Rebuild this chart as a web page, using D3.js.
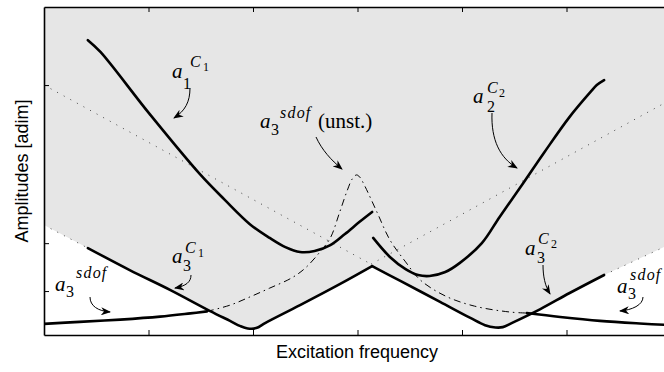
<!DOCTYPE html>
<html>
<head>
<meta charset="utf-8">
<script src="https://cdn.jsdelivr.net/npm/d3@7"></script>
<style>
  body { margin: 0; background: #fff; }
  svg { display: block; }
</style>
</head>
<body>
<div id="chart"></div>
<script>
const width = 664;
const height = 372;
// plot box runs a little past the right edge of the picture
const box = { left: 44, right: 671, top: 7, bottom: 335 };
const serif = "'Liberation Serif', 'Times New Roman', 'DejaVu Serif', serif";
const sans = "'Liberation Sans', Arial, Helvetica, sans-serif";

// x: excitation frequency, y: amplitude (no tick labels on the original)
const xDomain = [0, 6];
const yDomain = [0, 10];
const xTicks = [1, 2, 3, 4, 5];
const yTicks = [1.34, 2.8, 7.62];

// thick branches
const a1C1 = [[0.42, 8.99], [0.54, 8.63], [1.01, 6.74], [1.49, 4.91], [1.73, 4.12], [1.97, 3.38],
  [2.16, 2.96], [2.31, 2.68], [2.45, 2.53], [2.59, 2.56], [2.74, 2.74], [2.88, 3.08], [3.02, 3.45], [3.14, 3.75]];
const a2C2 = [[3.15, 2.96], [3.31, 2.38], [3.46, 2.01], [3.58, 1.83], [3.69, 1.8], [3.84, 1.92], [3.98, 2.2],
  [4.19, 2.8], [4.36, 3.6], [4.56, 4.51], [4.79, 5.58], [5.03, 6.65], [5.23, 7.41], [5.29, 7.62], [5.36, 7.77]];
const a3C1 = [[0.42, 2.65], [0.82, 1.98], [1.21, 1.37], [1.59, 0.73], [1.78, 0.43], [1.88, 0.27], [1.95, 0.2],
  [2.03, 0.21], [2.12, 0.37], [2.45, 0.91], [2.83, 1.55], [3.14, 2.1]];
const a3C2 = [[3.14, 2.1], [3.41, 1.65], [3.79, 1.01], [4.08, 0.52], [4.22, 0.3], [4.32, 0.23], [4.39, 0.24],
  [4.48, 0.37], [4.75, 0.79], [5.03, 1.28], [5.36, 1.83]];
// single dof response: stable left, unstable middle, stable right
const sdofLeft = [[0, 0.34], [0.34, 0.4], [0.73, 0.47], [1.11, 0.56], [1.4, 0.66], [1.56, 0.72]];
const sdofUnst = [[1.56, 0.72], [1.78, 0.91], [1.97, 1.16], [2.16, 1.43], [2.37, 1.74], [2.5, 2.04], [2.64, 2.53],
  [2.74, 2.96], [2.83, 3.75], [2.9, 4.39], [2.95, 4.76], [2.99, 4.88], [3.02, 4.82], [3.07, 4.54], [3.19, 3.72],
  [3.31, 2.9], [3.46, 2.23], [3.6, 1.68], [3.84, 1.19], [4.12, 0.88], [4.46, 0.7], [4.62, 0.67]];
const sdofRight = [[4.62, 0.67], [4.94, 0.55], [5.32, 0.43], [5.7, 0.35], [6, 0.3]];
// dotted backbones and the dotted edges of the shaded zone
const backLeft = [[0, 7.62], [3.13, 2.16]];
const backRight = [[3.13, 2.16], [6, 7.18]];
const edgeLeft = [[0, 3.35], [0.42, 2.65]];
const edgeRight = [[5.36, 1.83], [6, 2.78]];

const svg = d3.select('#chart').append('svg')
  .attr('width', width)
  .attr('height', height);

const x = d3.scaleLinear().domain(xDomain).range([box.left, box.right]);
const y = d3.scaleLinear().domain(yDomain).range([box.bottom, box.top]);

const defs = svg.append('defs');
defs.append('clipPath').attr('id', 'plot')
  .append('rect')
  .attr('x', box.left).attr('y', box.top)
  .attr('width', box.right - box.left).attr('height', box.bottom - box.top);
defs.append('marker')
  .attr('id', 'head')
  .attr('markerUnits', 'userSpaceOnUse')
  .attr('viewBox', '0 0 10 8')
  .attr('markerWidth', 10).attr('markerHeight', 8)
  .attr('refX', 9).attr('refY', 4)
  .attr('orient', 'auto')
  .append('path')
  .attr('d', 'M0,0 L10,4 L0,8 L3,4 Z')
  .attr('fill', '#000');

const smooth = d3.line().x((d) => x(d[0])).y((d) => y(d[1])).curve(d3.curveCatmullRom.alpha(0.5));
const straight = d3.line().x((d) => x(d[0])).y((d) => y(d[1]));

const plot = svg.append('g').attr('clip-path', 'url(#plot)');

// shaded zone above the a3 branches
const zone = straight(edgeLeft) +
  smooth(a3C1).replace(/^M/, 'L') +
  smooth(a3C2).replace(/^M/, 'L') +
  straight(edgeRight).replace(/^M/, 'L') +
  `L${x(6)},${y(10)}L${x(0)},${y(10)}Z`;
plot.append('path').attr('d', zone).attr('fill', '#e6e6e6');

const dotted = (data) => plot.append('path')
  .attr('d', straight(data))
  .attr('fill', 'none')
  .attr('stroke', '#444')
  .attr('stroke-width', 1)
  .attr('stroke-dasharray', '1,6.5');
[backLeft, backRight, edgeLeft, edgeRight].forEach(dotted);

plot.append('path')
  .attr('d', smooth(sdofUnst))
  .attr('fill', 'none')
  .attr('stroke', '#000')
  .attr('stroke-width', 1)
  .attr('stroke-dasharray', '7,4,1.5,4');

[a1C1, a2C2, a3C1, a3C2, sdofLeft, sdofRight].forEach((data) => {
  plot.append('path')
    .attr('d', smooth(data))
    .attr('fill', 'none')
    .attr('stroke', '#000')
    .attr('stroke-width', 2.6)
    .attr('stroke-linecap', 'round')
    .attr('stroke-linejoin', 'round');
});

// frame + inward ticks
const axes = svg.append('g');
axes.append('g').attr('transform', `translate(0,${box.bottom})`)
  .call(d3.axisBottom(x).tickValues(xTicks).tickSize(-5).tickSizeOuter(0).tickFormat(''));
axes.append('g').attr('transform', `translate(0,${box.top})`)
  .call(d3.axisTop(x).tickValues(xTicks).tickSize(-5).tickSizeOuter(0).tickFormat(''));
axes.append('g').attr('transform', `translate(${box.left},0)`)
  .call(d3.axisLeft(y).tickValues(yTicks).tickSize(-5).tickSizeOuter(0).tickFormat(''));
axes.append('g').attr('transform', `translate(${box.right},0)`)
  .call(d3.axisRight(y).tickValues(yTicks).tickSize(-5).tickSizeOuter(0).tickFormat(''));
axes.selectAll('.domain').attr('stroke', '#000').attr('stroke-width', 1.6);
axes.selectAll('.tick line').attr('stroke', '#000').attr('stroke-width', 1);

svg.append('text')
  .attr('x', 357).attr('y', 358)
  .attr('text-anchor', 'middle')
  .style('font-family', sans).style('font-size', '18px')
  .text('Excitation frequency');
svg.append('text')
  .attr('transform', 'translate(28,171) rotate(-90)')
  .attr('text-anchor', 'middle')
  .style('font-family', sans).style('font-size', '18px')
  .text('Amplitudes [adim]');

// math labels a_i^{...}, each one text element with placed tspans
const labels = [
  { x: 172, y: 78, sub: '1', sx: 183, sy: 89, sup: 'C', px: 190, py: 67, ss: '1', qx: 203, qy: 71 },
  { x: 260, y: 128, sub: '3', sx: 271, sy: 135, sup: 'sdof', px: 280, py: 118, tail: '(unst.)', tx: 318 },
  { x: 473, y: 103, sub: '2', sx: 487, sy: 112, sup: 'C', px: 487, py: 93, ss: '2', qx: 499, qy: 97 },
  { x: 172, y: 263, sub: '3', sx: 183, sy: 271, sup: 'C', px: 185, py: 253, ss: '1', qx: 198, qy: 257 },
  { x: 525, y: 255, sub: '3', sx: 537, sy: 263, sup: 'C', px: 538, py: 244, ss: '2', qx: 551, qy: 248 },
  { x: 55, y: 291, sub: '3', sx: 66, sy: 297, sup: 'sdof', px: 76, py: 278 },
  { x: 617, y: 293, sub: '3', sx: 628, sy: 299, sup: 'sdof', px: 630, py: 280 }
];
const arrows = [
  'M190,88 C190,102 185,111 174,118',
  'M316,137 C322,150 331,160 342,169',
  'M492,113 C491,140 500,158 517,168',
  'M191,275 C191,282 186,286 175,288',
  'M543,265 C543,276 545,286 550,294',
  'M90,297 C90,306 98,311 110,312',
  'M643,297 C643,305 632,310 620,311'
];

const ann = svg.append('g');
labels.forEach((l) => {
  const t = ann.append('text')
    .style('font-family', serif)
    .attr('fill', '#000');
  t.append('tspan').attr('x', l.x).attr('y', l.y)
    .style('font-size', '21px').style('font-style', 'italic').text('a');
  t.append('tspan').attr('x', l.sx).attr('y', l.sy)
    .style('font-size', '16px').text(l.sub);
  t.append('tspan').attr('x', l.px).attr('y', l.py)
    .style('font-size', '16px').style('font-style', 'italic')
    .style('letter-spacing', l.sup.length > 1 ? '1.2px' : '0px')
    .text(l.sup);
  if (l.ss) {
    t.append('tspan').attr('x', l.qx).attr('y', l.qy)
      .style('font-size', '12px').text(l.ss);
  }
  if (l.tail) {
    t.append('tspan').attr('x', l.tx).attr('y', l.y)
      .style('font-size', '21px').text(l.tail);
  }
});
arrows.forEach((d) => {
  ann.append('path').attr('d', d)
    .attr('fill', 'none')
    .attr('stroke', '#000')
    .attr('stroke-width', 1)
    .attr('marker-end', 'url(#head)');
});
</script>
</body>
</html>
